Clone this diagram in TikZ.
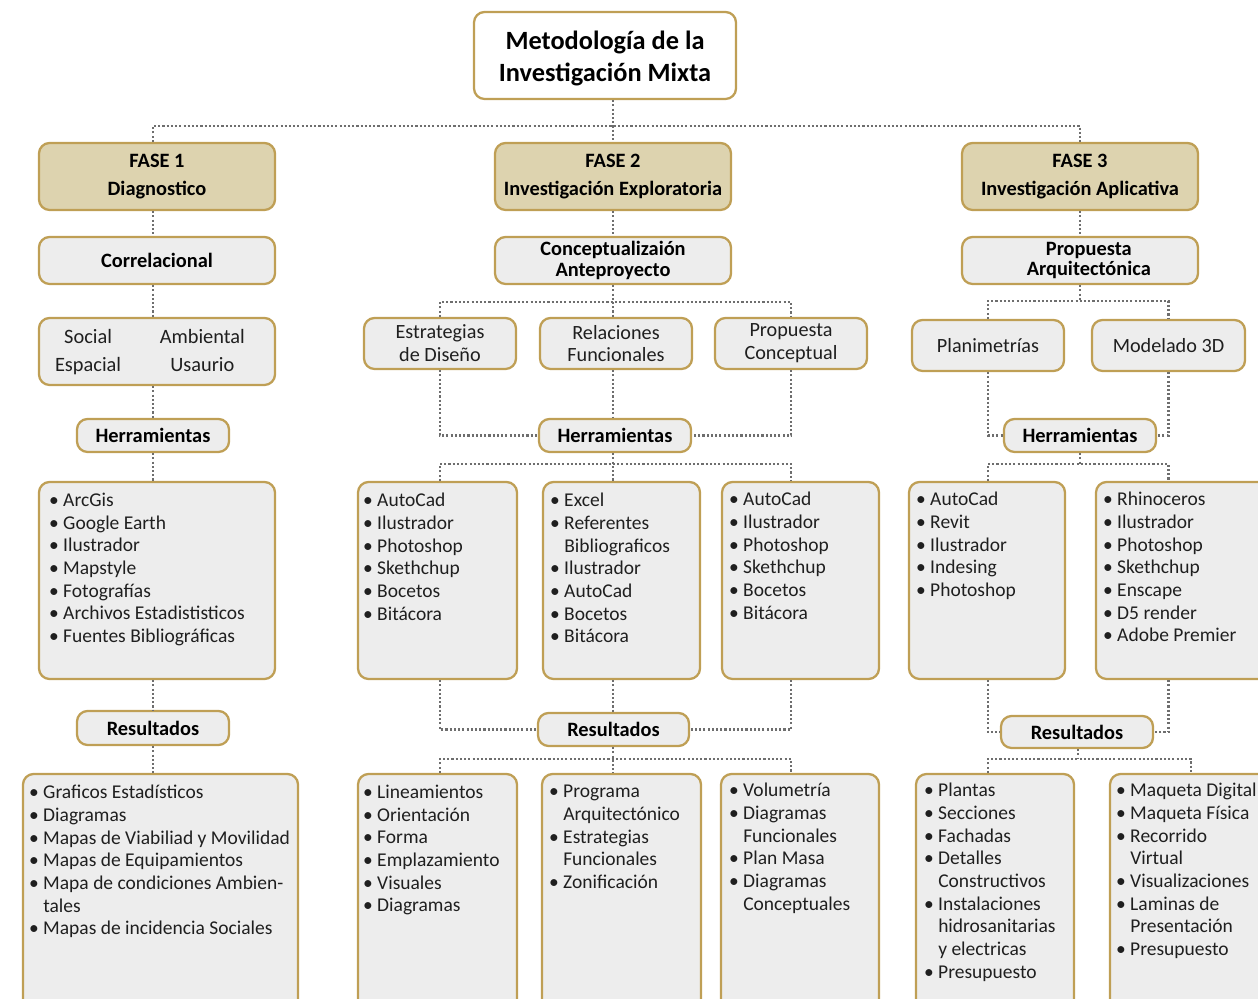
\documentclass[tikz,border=0pt]{standalone}
\usepackage{fontspec}
\setmainfont{Carlito}
\usetikzlibrary{positioning,calc}
\definecolor{gold}{HTML}{BF9F55}
\definecolor{tan}{HTML}{DDD3AF}
\definecolor{pale}{HTML}{EDEDED}
\definecolor{dotgray}{HTML}{6E6E6E}
\definecolor{ink}{HTML}{1F1F1F}
\newcommand\bul{\makebox[0.72em][l]{•}}
\newcommand\cnt{\hspace*{0.72em}}
\tikzset{
	box/.style={draw=gold, line width=1.3pt, rounded corners=6pt, inner sep=0pt, align=center},
	size/.style 2 args={minimum width=#1*0.02cm, minimum height=#2*0.02cm},
	titlebox/.style={box, fill=white, font=\bfseries\fontsize{15}{18}\selectfont},
	fase/.style={box, fill=tan, font=\bfseries\fontsize{11.6}{16}\selectfont},
	head/.style={box, fill=pale, font=\bfseries\fontsize{11.6}{12}\selectfont},
	plain/.style={box, fill=pale, text=ink, font=\fontsize{11.5}{13}\selectfont},
	listbox/.style={box, fill=pale},
	listtxt/.style={anchor=north west, inner sep=0pt, align=left, text=ink,
		font=\fontsize{11.1}{12.9}\selectfont, execute at begin node=\strut},
	link/.style={draw=dotgray, line width=1.3pt, dash pattern=on 1.2pt off 1.2pt},
}

\begin{document}
\begin{tikzpicture}[x=0.02cm, y=-0.02cm]
	\useasboundingbox (0,0) rectangle (1258,999);
	\clip (0,0) rectangle (1258,999);

	% top
	\node[titlebox, size={262}{87}] (title) at (605,55.5) {\rule{0pt}{14pt}Metodología de la\\Investigación Mixta};
	\node[fase, size={236}{67}] (fase1) at (157,176.5) {FASE 1\\Diagnostico};
	\node[fase, size={236}{67}] (fase2) at (613,176.5) {FASE 2\\Investigación Exploratoria};
	\node[fase, size={236}{67}] (fase3) at (1080,176.5) {FASE 3\\Investigación Aplicativa};

	% fase 1
	\node[head, size={236}{47}] (correl) at (157,260.5) {Correlacional};
	\node[plain, size={236}{67}, font=\fontsize{11.6}{16}\selectfont] (dims) at (157,351.5)
		{\begin{tabular}{@{}c@{\hspace{22pt}}c@{\hspace{8pt}}}Social & Ambiental\\Espacial & Usaurio\end{tabular}};
	\node[head, size={152}{33}] (herr1) at (153,435.5) {Herramientas};
	\node[listbox, size={236}{197}] (tools1) at (157,580.5) {};
	\node[listtxt] (tools1txt) at ([shift={(11,12)}]tools1.north west)
		{\bul ArcGis\\\bul Google Earth\\\bul Ilustrador\\\bul Mapstyle\\\bul Fotografías\\\bul Archivos Estadististicos\\\bul Fuentes Bibliográficas};
	\node[head, size={152}{34}] (res1) at (153,728) {Resultados};
	\node[listbox, size={275}{240}] (out1) at (160.5,894) {};
	\node[listtxt] (out1txt) at ([shift={(7,12)}]out1.north west)
		{\bul Graficos Estadísticos\\\bul Diagramas\\\bul Mapas de Viabiliad y Movilidad\\\bul Mapas de Equipamientos\\\bul Mapa de condiciones Ambien-\\\cnt tales\\\bul Mapas de incidencia Sociales};

	% fase 2
	\node[head, size={236}{47}, font=\bfseries\fontsize{11.6}{11.9}\selectfont] (concep) at (613,260.5) {Conceptualizaión\\Anteproyecto};
	\node[plain, size={152}{51}] (estr) at (440,343.5) {Estrategias\\de Diseño};
	\node[plain, size={152}{51}] (relac) at (616,343.5) {Relaciones\\Funcionales};
	\node[plain, size={152}{51}] (propc) at (791,343.5) {Propuesta\\Conceptual};
	\node[head, size={152}{33}] (herr2) at (615,435.5) {Herramientas};
	\node[listbox, size={159}{197}] (tools2a) at (437.5,580.5) {};
	\node[listbox, size={157}{197}] (tools2b) at (621.5,580.5) {};
	\node[listbox, size={157}{197}] (tools2c) at (800.5,580.5) {};
	\node[listtxt] (tools2atxt) at ([shift={(6,12)}]tools2a.north west)
		{\bul AutoCad\\\bul Ilustrador\\\bul Photoshop\\\bul Skethchup\\\bul Bocetos\\\bul Bitácora};
	\node[listtxt] (tools2btxt) at ([shift={(8,12)}]tools2b.north west)
		{\bul Excel\\\bul Referentes\\\cnt Bibliograficos\\\bul Ilustrador\\\bul AutoCad\\\bul Bocetos\\\bul Bitácora};
	\node[listtxt] (tools2ctxt) at ([shift={(8,11)}]tools2c.north west)
		{\bul AutoCad\\\bul Ilustrador\\\bul Photoshop\\\bul Skethchup\\\bul Bocetos\\\bul Bitácora};
	\node[head, size={151}{33}] (res2) at (613.5,729.5) {Resultados};
	\node[listbox, size={159}{240}] (out2a) at (437.5,894) {};
	\node[listbox, size={159}{240}] (out2b) at (621.5,894) {};
	\node[listbox, size={158}{240}] (out2c) at (800,894) {};
	\node[listtxt] (out2atxt) at ([shift={(6,12)}]out2a.north west)
		{\bul Lineamientos\\\bul Orientación\\\bul Forma\\\bul Emplazamiento\\\bul Visuales\\\bul Diagramas};
	\node[listtxt] (out2btxt) at ([shift={(8,12)}]out2b.north west)
		{\bul Programa\\\cnt Arquitectónico\\\bul Estrategias\\\cnt Funcionales\\\bul Zonificación};
	\node[listtxt] (out2ctxt) at ([shift={(9,10)}]out2c.north west)
		{\bul Volumetría\\\bul Diagramas\\\cnt Funcionales\\\bul Plan Masa\\\bul Diagramas\\\cnt Conceptuales};

	% fase 3
	\node[head, size={236}{47}, font=\bfseries\fontsize{11.6}{11.9}\selectfont] (propa) at (1080,260.5) {\hspace*{10pt}Propuesta\\\hspace*{10pt}Arquitectónica};
	\node[plain, size={152}{51}] (plan) at (988,345.5) {Planimetrías};
	\node[plain, size={153}{51}] (model) at (1168.5,345.5) {Modelado 3D};
	\node[head, size={152}{33}] (herr3) at (1080,435.5) {Herramientas};
	\node[listbox, size={156}{197}] (tools3a) at (987,580.5) {};
	\node[listbox, size={176}{197}] (tools3b) at (1184,580.5) {};
	\node[listtxt] (tools3atxt) at ([shift={(8,11)}]tools3a.north west)
		{\bul AutoCad\\\bul Revit\\\bul Ilustrador\\\bul Indesing\\\bul Photoshop};
	\node[listtxt] (tools3btxt) at ([shift={(8,11)}]tools3b.north west)
		{\bul Rhinoceros\\\bul Ilustrador\\\bul Photoshop\\\bul Skethchup\\\bul Enscape\\\bul D5 render\\\bul Adobe Premier};
	\node[head, size={152}{32}] (res3) at (1077,732) {Resultados};
	\node[listbox, size={158}{240}] (out3a) at (995,894) {};
	\node[listbox, size={162}{240}] (out3b) at (1191,894) {};
	\node[listtxt] (out3atxt) at ([shift={(9,10)}]out3a.north west)
		{\bul Plantas\\\bul Secciones\\\bul Fachadas\\\bul Detalles\\\cnt Constructivos\\\bul Instalaciones\\\cnt hidrosanitarias\\\cnt y electricas\\\bul Presupuesto};
	\node[listtxt] (out3btxt) at ([shift={(7,10)}]out3b.north west)
		{\bul Maqueta Digital\\\bul Maqueta Física\\\bul Recorrido\\\cnt Virtual\\\bul Visualizaciones\\\bul Laminas de\\\cnt Presentación\\\bul Presupuesto};

	% junctions
	\coordinate (hub) at (613,126);
	\coordinate (j2a) at (613,302);
	\coordinate (j2b) at (613,464);
	\coordinate (j2c) at (613,759);
	\coordinate (j3a) at (1080,301);
	\coordinate (j3b) at (1080,464);
	\coordinate (j3c) at (1078,759);

	% links
	\draw[link] (title.south -| fase2) -- (fase2.north);
	\draw[link] (fase1.north -| herr1) |- (hub) -| (fase3.north);
	\foreach \a/\b in {fase1/correl, correl/dims, dims/herr1, herr1/tools1, tools1/res1, res1/out1}
		\draw[link] (\a.south -| herr1) -- (\b.north -| herr1);

	\draw[link] (fase2) -- (concep);
	\draw[link] (concep.south) -- (j2a) -- (j2a |- relac.north);
	\draw[link] (estr.north) |- (j2a) -| (propc.north);
	\draw[link] (relac.south -| j2a) -- (herr2.north -| j2a);
	\draw[link] (estr.south) |- (herr2.west);
	\draw[link] (propc.south) |- (herr2.east);
	\draw[link] (herr2.south -| j2b) -- (j2b) -- (j2b |- tools2b.north);
	\draw[link] (estr.south |- tools2a.north) |- (j2b) -| (propc.south |- tools2c.north);
	\draw[link] (tools2b.south -| j2b) -- (res2.north -| j2b);
	\draw[link] (estr.south |- tools2a.south) |- (res2.west);
	\draw[link] (propc.south |- tools2c.south) |- (res2.east);
	\draw[link] (res2.south -| j2c) -- (j2c) -- (j2c |- out2b.north);
	\draw[link] (estr.south |- out2a.north) |- (j2c) -| (propc.south |- out2c.north);

	\draw[link] (fase3) -- (propa);
	\draw[link] (propa.south) -- (j3a);
	\draw[link] (plan.north) |- (j3a) -| (model.north);
	\draw[link] (plan.south) |- (herr3.west);
	\draw[link] (model.south) |- (herr3.east);
	\draw[link] (herr3.south) -- (j3b);
	\draw[link] (plan.south |- tools3a.north) |- (j3b) -| (model.south |- tools3b.north);
	\draw[link] (plan.south |- tools3a.south) |- (res3.west);
	\draw[link] (model.south |- tools3b.south) |- (res3.east);
	\draw[link] (res3.south -| j3c) -- (j3c);
	\draw[link] (plan.south |- out3a.north) |- (j3c) -| (out3b.north);
\end{tikzpicture}
\end{document}
